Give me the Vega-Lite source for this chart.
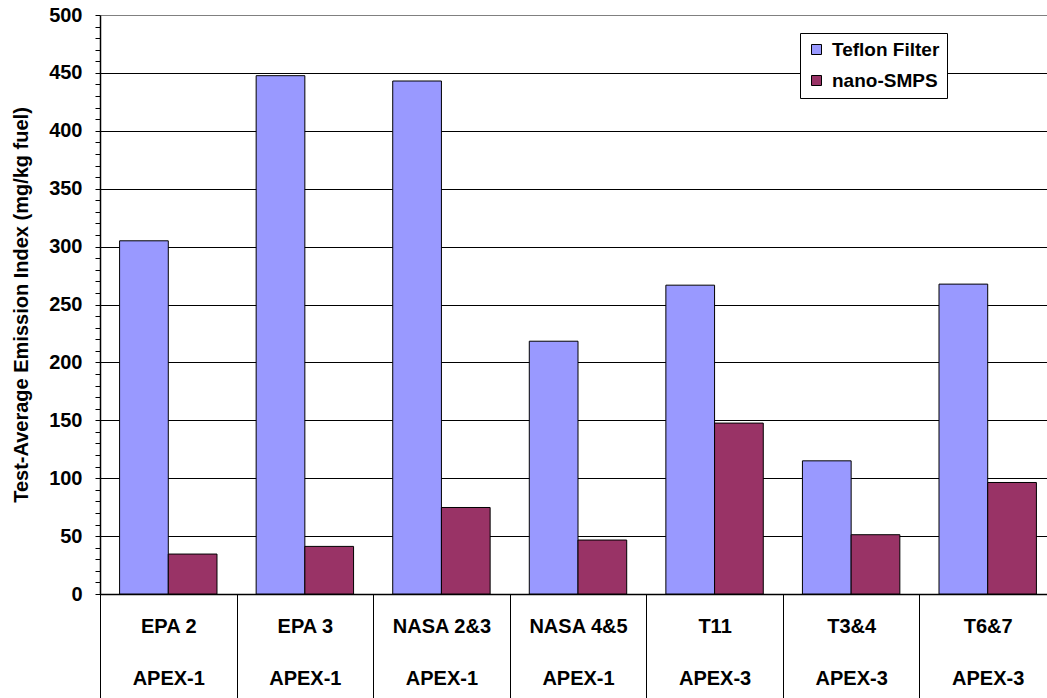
{
  "$schema": "https://vega.github.io/schema/vega-lite/v6.json",
  "autosize": "none",
  "padding": {"left": 100, "top": 15, "right": 0, "bottom": 104},
  "width": 947,
  "height": 579,
  "background": "white",
  "config": {
    "font": "Liberation Sans",
    "view": {"stroke": null}
  },
  "data": {
    "values": [
      {"cat": "EPA 2|APEX-1", "series": "Teflon Filter", "value": 305},
      {"cat": "EPA 2|APEX-1", "series": "nano-SMPS", "value": 34.5},
      {"cat": "EPA 3|APEX-1", "series": "Teflon Filter", "value": 447.6},
      {"cat": "EPA 3|APEX-1", "series": "nano-SMPS", "value": 41.1},
      {"cat": "NASA 2&3|APEX-1", "series": "Teflon Filter", "value": 443},
      {"cat": "NASA 2&3|APEX-1", "series": "nano-SMPS", "value": 74.7},
      {"cat": "NASA 4&5|APEX-1", "series": "Teflon Filter", "value": 218.3},
      {"cat": "NASA 4&5|APEX-1", "series": "nano-SMPS", "value": 46.6},
      {"cat": "T11|APEX-3", "series": "Teflon Filter", "value": 266.7},
      {"cat": "T11|APEX-3", "series": "nano-SMPS", "value": 147.6},
      {"cat": "T3&4|APEX-3", "series": "Teflon Filter", "value": 115},
      {"cat": "T3&4|APEX-3", "series": "nano-SMPS", "value": 51.2},
      {"cat": "T6&7|APEX-3", "series": "Teflon Filter", "value": 267.6},
      {"cat": "T6&7|APEX-3", "series": "nano-SMPS", "value": 96.3}
    ]
  },
  "mark": {"type": "bar", "stroke": "black", "strokeWidth": 1},
  "encoding": {
    "x": {
      "field": "cat",
      "type": "nominal",
      "sort": null,
      "scale": {"range": [0, 956], "paddingInner": 0, "paddingOuter": 0},
      "axis": {
        "title": null,
        "labelExpr": "datum.value ? split(datum.value, '|') : ''",
        "labelAngle": 0,
        "labelFont": "Liberation Sans",
        "labelFontSize": 20,
        "labelFontWeight": "bold",
        "labelColor": "black",
        "labelLineHeight": 52,
        "labelBaseline": "top",
        "labelPadding": -81.5,
        "tickBand": "extent",
        "tickSize": 104,
        "tickColor": "black",
        "tickWidth": 1,
        "domainColor": "black",
        "domainWidth": 1.5,
        "grid": false
      }
    },
    "xOffset": {"field": "series", "type": "nominal", "sort": ["Teflon Filter", "nano-SMPS"], "scale": {"paddingInner": 0, "paddingOuter": 0.402}},
    "y": {
      "field": "value",
      "type": "quantitative",
      "scale": {"domain": [0, 500], "nice": false},
      "axis": {
        "title": "Test-Average Emission Index (mg/kg fuel)",
        "titleFont": "Liberation Sans",
        "titleFontSize": 20,
        "titleFontWeight": "bold",
        "titleColor": "black",
        "titlePadding": 17,
        "values": [0,10,20,30,40,50,60,70,80,90,100,110,120,130,140,150,160,170,180,190,200,210,220,230,240,250,260,270,280,290,300,310,320,330,340,350,360,370,380,390,400,410,420,430,440,450,460,470,480,490,500],
        "labelExpr": "datum.value % 50 === 0 ? datum.label : ''",
        "labelFont": "Liberation Sans",
        "labelFontSize": 20,
        "labelFontWeight": "bold",
        "labelColor": "black",
        "labelPadding": 13,
        "tickSize": 5,
        "tickColor": "black",
        "domainColor": "black",
        "domainWidth": 1.5,
        "grid": true,
        "gridColor": {"condition": {"test": "datum.value === 500", "value": "#808080"}, "value": "black"},
        "gridOpacity": {"condition": {"test": "datum.value % 50 === 0", "value": 1}, "value": 0},
        "gridWidth": 1.2
      }
    },
    "fill": {
      "field": "series",
      "type": "nominal",
      "sort": ["Teflon Filter", "nano-SMPS"],
      "scale": {"domain": ["Teflon Filter", "nano-SMPS"], "range": ["#9999FF", "#993366"]},
      "legend": {
        "title": null,
        "orient": "none",
        "legendX": 700,
        "legendY": 18,
        "padding": 7,
        "strokeColor": "black",
        "fillColor": "white",
        "symbolType": "square",
        "symbolSize": 100,
        "symbolStrokeColor": "black",
        "symbolStrokeWidth": 1,
        "symbolOpacity": 1,
        "labelFont": "Liberation Sans",
        "labelFontSize": 19,
        "labelFontWeight": "bold",
        "labelColor": "black",
        "labelOffset": 6,
        "rowPadding": 11
      }
    }
  }
}
